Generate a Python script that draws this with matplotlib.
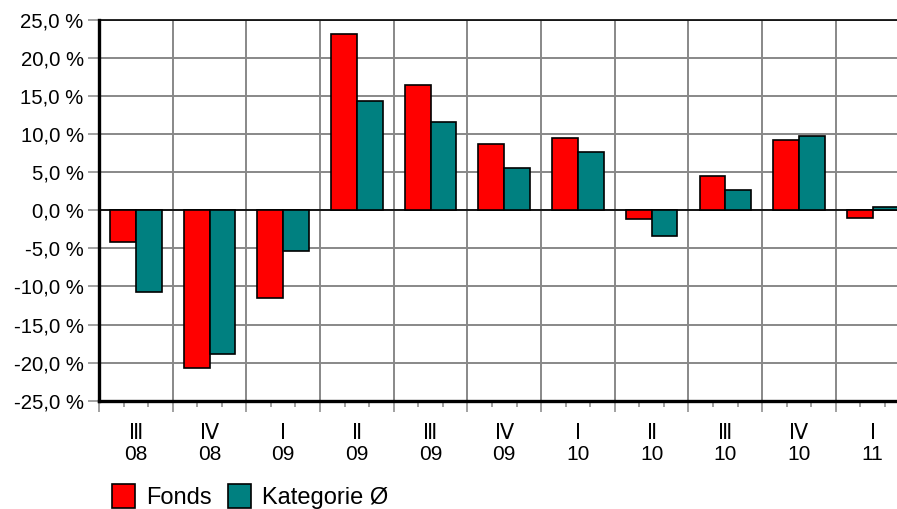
import matplotlib
matplotlib.use("Agg")
import matplotlib.pyplot as plt
from matplotlib.patches import Patch
import numpy as np

plt.rcParams['font.family'] = ['Liberation Sans', 'DejaVu Sans']

quarters = ["Ⅲ", "Ⅳ", "Ⅰ", "Ⅱ", "Ⅲ", "Ⅳ", "Ⅰ", "Ⅱ", "Ⅲ", "Ⅳ", "Ⅰ"]
years = ["08", "08", "09", "09", "09", "09", "10", "10", "10", "10", "11"]
fonds = [-4.2, -20.7, -11.5, 23.2, 16.4, 8.7, 9.5, -1.2, 4.5, 9.3, -1.0]
kategorie = [-10.7, -18.9, -5.3, 14.3, 11.6, 5.6, 7.6, -3.4, 2.7, 9.8, 0.5]
yticks = [-25, -20, -15, -10, -5, 0, 5, 10, 15, 20, 25]

RED = "#FF0000"
TEAL = "#008080"
GRID = "#888888"

fig = plt.figure(figsize=(8.97, 5.09), dpi=100)
ax = fig.add_axes([99 / 897, 108.3 / 509, 1 - 99 / 897, 380.7 / 509])

x = np.arange(len(fonds))
w = 0.35
ax.bar(x - w / 2, fonds, w, color=RED, edgecolor="black", linewidth=1.2, zorder=3)
ax.bar(x + w / 2, kategorie, w, color=TEAL, edgecolor="black", linewidth=1.2, zorder=3)
ax.axhline(0, color="black", linewidth=1.2, zorder=2)

# y axis
ax.set_yticks(yticks)
ax.set_yticklabels([f"{v:.1f}".replace(".", ",") + " %" for v in yticks], fontsize=14.7)
ax.tick_params(axis="y", length=8, width=1.1, color=GRID, pad=3)

# x axis: boundaries as major ticks, thirds as minor ticks
bounds = np.arange(len(fonds) + 1) - 0.5
ax.set_xticks(bounds)
ax.set_xticklabels([])
minors = np.concatenate([x - 1 / 6, x + 1 / 6])
ax.set_xticks(minors, minor=True)
ax.tick_params(axis="x", which="major", length=8, width=1.1, color=GRID)
ax.tick_params(axis="x", which="minor", length=4, width=1.1, color=GRID)

ax.set_xlim(-0.5, 10.33)
ax.set_ylim(-25, 25)

sec = ax.secondary_xaxis("bottom")
sec.set_xticks(x)
sec.set_xticklabels([f"{q}\n{yy}" for q, yy in zip(quarters, years)], fontsize=15, linespacing=1.12)
sec.tick_params(length=0, pad=17)
sec.spines["bottom"].set_visible(False)

ax.grid(True, which="major", color=GRID, linewidth=1.4, zorder=0)
ax.set_axisbelow(True)

ax.spines["left"].set_linewidth(2.4)
ax.spines["bottom"].set_linewidth(2.4)
ax.spines["top"].set_linewidth(1.2)
ax.spines["right"].set_visible(False)
for s in ax.spines.values():
    s.set_color("black")
    s.set_zorder(4)

handles = [Patch(facecolor=RED, edgecolor="black", linewidth=1.2, label="Fonds"),
           Patch(facecolor=TEAL, edgecolor="black", linewidth=1.2, label="Kategorie Ø")]
fig.legend(handles=handles, loc="lower left", bbox_to_anchor=(98 / 897, -0.027), ncol=2,
           frameon=False, fontsize=17, handlelength=0.98, handleheight=1.2,
           handletextpad=0.45, columnspacing=0.7, borderaxespad=0.2)

fig.savefig("out.png", dpi=100)
